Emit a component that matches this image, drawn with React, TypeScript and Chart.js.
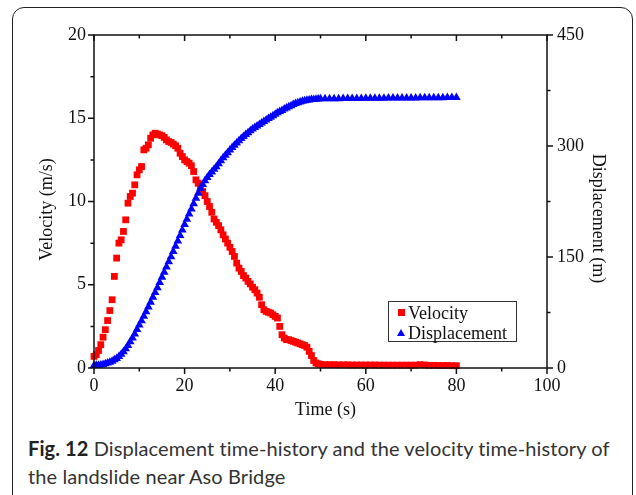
import React, { useEffect, useRef } from "react";
import { Chart, registerables } from "chart.js";

Chart.register(...registerables);

// ---- data ----
const time = [
  0, 0.5, 1, 1.5, 2, 2.5, 3, 3.5, 4, 4.5,
  5, 5.5, 6, 6.5, 7, 7.5, 8, 8.5, 9, 9.5,
  10, 10.5, 11, 11.5, 12, 12.5, 13, 13.5, 14, 14.5,
  15, 15.5, 16, 16.5, 17, 17.5, 18, 18.5, 19, 19.5,
  20, 20.5, 21, 21.5, 22, 22.5, 23, 23.5, 24, 24.5,
  25, 25.5, 26, 26.5, 27, 27.5, 28, 28.5, 29, 29.5,
  30, 30.5, 31, 31.5, 32, 32.5, 33, 33.5, 34, 34.5,
  35, 35.5, 36, 36.5, 37, 37.5, 38, 38.5, 39, 39.5,
  40, 40.5, 41, 41.5, 42, 42.5, 43, 43.5, 44, 44.5,
  45, 45.5, 46, 46.5, 47, 47.5, 48, 48.5, 49, 49.5,
  50, 51, 52, 53, 54, 55, 56, 57, 58, 59,
  60, 61, 62, 63, 64, 65, 66, 67, 68, 69,
  70, 71, 72, 73, 74, 75, 76, 77, 78, 79,
  80,
];

const velocity = [
  0.7, 0.8, 1.05, 1.4, 1.85, 2.3, 2.85, 3.45, 4.1, 5.5,
  6.6, 7.5, 7.7, 8.2, 8.9, 9.9, 10.3, 10.5, 11.0, 11.6,
  11.9, 12.1, 13.1, 13.2, 13.4, 13.8, 14.0, 14.1, 14.05, 14.0,
  13.95, 13.85, 13.7, 13.6, 13.55, 13.45, 13.35, 13.2, 12.9, 12.7,
  12.5, 12.4, 12.3, 12.15, 11.8, 11.3, 11.1, 10.95, 10.6, 10.35,
  10.0, 9.7, 9.35, 8.95, 8.75, 8.55, 8.3, 8.0, 7.75, 7.5,
  7.25, 7.0, 6.7, 6.3, 6.0, 5.8, 5.55, 5.4, 5.2, 5.05,
  4.85, 4.7, 4.5, 4.25, 3.8, 3.5, 3.4, 3.35, 3.3, 3.2,
  3.1, 3.0, 2.5, 2.0, 1.8, 1.7, 1.7, 1.65, 1.6, 1.55,
  1.5, 1.45, 1.4, 1.35, 1.25, 1.0, 0.75, 0.45, 0.3, 0.25,
  0.22, 0.2, 0.2, 0.2, 0.19, 0.19, 0.19, 0.18, 0.18, 0.18,
  0.18, 0.18, 0.18, 0.17, 0.17, 0.17, 0.17, 0.17, 0.17, 0.17,
  0.17, 0.17, 0.2, 0.18, 0.16, 0.16, 0.15, 0.15, 0.15, 0.14,
  0.14,
];

const displacement = [
  3.5, 3.6, 3.8, 4.2, 4.8, 5.6, 6.6, 7.8, 9.2, 11,
  13, 15.5, 18.5, 22, 26, 30.5, 35.5, 40.5, 46, 52,
  58, 64, 70, 76, 82.5, 89, 95.5, 102, 108.5, 115.5,
  122.5, 129.5, 136.5, 143.5, 150.5, 157.5, 164.5, 171.5, 179, 186.5,
  194, 201, 208, 215, 222, 229.5, 236, 242.5, 248, 253,
  257.5, 261.5, 265, 268.5, 272, 276, 280, 284, 287.5, 291,
  294.5, 298, 301, 304, 307, 310, 313, 315.5, 318, 320.5,
  323, 325, 327, 329, 331, 333, 335, 337, 339, 341,
  343, 345, 346.5, 348, 350, 351.5, 353, 354.5, 356, 357.5,
  358.5, 359.5, 360.5, 361.2, 361.8, 362.3, 362.7, 363, 363.3, 363.5,
  363.7, 363.8, 363.9, 364, 364, 364.1, 364.2, 364.2, 364.3, 364.3,
  364.4, 364.5, 364.5, 364.6, 364.6, 364.7, 364.8, 364.8, 364.9, 364.9,
  365, 365, 365.1, 365.1, 365.2, 365.2, 365.3, 365.3, 365.4, 365.4,
  365.5,
];

// ---- axis ticks & titles ----
const xMajor = [0, 20, 40, 60, 80, 100];
const xMinor = [10, 30, 50, 70, 90];
const vMajor = [0, 5, 10, 15, 20];
const vMinor = [2.5, 7.5, 12.5, 17.5];
const dMajor = [0, 150, 300, 450];
const dMinor = [75, 225, 375];
const xTitle = "Time (s)";
const vTitle = "Velocity (m/s)";
const dTitle = "Displacement (m)";

const SERIF = '"Liberation Serif", "Times New Roman", serif';
const tickFont = { family: SERIF, size: 18 };
const INK = "#111";

const frameTicks = {
  id: "frameTicks",
  afterDraw(chart: any) {
    const { ctx, chartArea: a, scales } = chart;
    const x = scales.x;
    const y = scales.y;
    const y1 = scales.y1;
    const MAJ = 6;
    const MIN = 3.5;
    ctx.save();
    ctx.strokeStyle = INK;
    ctx.lineWidth = 1.5;
    ctx.strokeRect(a.left, a.top, a.right - a.left, a.bottom - a.top);
    ctx.beginPath();
    const xt = (vals: number[], len: number) =>
      vals.forEach((v) => {
        const p = x.getPixelForValue(v);
        ctx.moveTo(p, a.bottom);
        ctx.lineTo(p, a.bottom + len);
        ctx.moveTo(p, a.top);
        ctx.lineTo(p, a.top + len);
      });
    xt(xMajor, MAJ);
    xt(xMinor, MIN);
    const lt = (vals: number[], len: number) =>
      vals.forEach((v) => {
        const p = y.getPixelForValue(v);
        ctx.moveTo(a.left, p);
        ctx.lineTo(a.left - len, p);
      });
    lt(vMajor, MAJ);
    lt(vMinor, MIN);
    const rt = (vals: number[], len: number) =>
      vals.forEach((v) => {
        const p = y1.getPixelForValue(v);
        ctx.moveTo(a.right, p);
        ctx.lineTo(a.right + len, p);
      });
    rt(dMajor, MAJ);
    rt(dMinor, MIN);
    ctx.stroke();

    // axis titles
    ctx.fillStyle = INK;
    ctx.font = `18px ${SERIF}`;
    ctx.textAlign = "center";
    ctx.textBaseline = "middle";
    const midY = (a.top + a.bottom) / 2;
    ctx.fillText(xTitle, (a.left + a.right) / 2 + 5, 410);
    ctx.save();
    ctx.translate(47, midY + 8);
    ctx.rotate(-Math.PI / 2);
    ctx.fillText(vTitle, 0, 0);
    ctx.restore();
    ctx.save();
    ctx.translate(598, midY + 17);
    ctx.rotate(Math.PI / 2);
    ctx.fillText(dTitle, 0, 0);
    ctx.restore();
    ctx.restore();
  },
};

export default function App() {
  const ref = useRef<HTMLCanvasElement | null>(null);

  useEffect(() => {
    if (!ref.current) return;
    const noGrid = { display: false, drawTicks: false, tickLength: 0 };
    const chart = new Chart(ref.current, {
      type: "scatter",
      data: {
        datasets: [
          {
            label: "Velocity",
            data: time.map((t, i) => ({ x: t, y: velocity[i] })),
            yAxisID: "y",
            pointStyle: "rect",
            pointRadius: 4.8,
            backgroundColor: "#ff0000",
            borderColor: "#ff0000",
            borderWidth: 0,
            showLine: false,
            clip: false,
            order: 1,
          } as any,
          {
            label: "Displacement",
            data: time.map((t, i) => ({ x: t, y: displacement[i] })),
            yAxisID: "y1",
            pointStyle: "triangle",
            pointRadius: 5,
            backgroundColor: "#0000ff",
            borderColor: "#0000ff",
            borderWidth: 0,
            showLine: false,
            clip: false,
            order: 0,
          } as any,
        ],
      },
      options: {
        responsive: false,
        animation: false,
        events: [],
        layout: { padding: { top: 35, bottom: 2, left: 0, right: 0 } },
        plugins: { legend: { display: false }, tooltip: { enabled: false } },
        scales: {
          x: {
            type: "linear",
            position: "bottom",
            min: 0,
            max: 100,
            ticks: { stepSize: 20, font: tickFont, color: INK, padding: 7, maxRotation: 0, autoSkip: false },
            grid: noGrid,
            border: { display: false },
            title: { display: false },
            afterFit: (s: any) => {
              s.height = 60;
            },
          },
          y: {
            type: "linear",
            position: "left",
            min: 0,
            max: 20,
            ticks: { stepSize: 5, font: tickFont, color: INK, padding: 8 },
            grid: noGrid,
            border: { display: false },
            title: { display: false },
            afterFit: (s: any) => {
              s.width = 94;
            },
          },
          y1: {
            type: "linear",
            position: "right",
            min: 0,
            max: 450,
            ticks: { stepSize: 150, font: tickFont, color: INK, padding: 10 },
            grid: noGrid,
            border: { display: false },
            title: { display: false },
            afterFit: (s: any) => {
              s.width = 89;
            },
          },
        },
      } as any,
      plugins: [frameTicks],
    });
    return () => chart.destroy();
  }, []);

  const legendText: React.CSSProperties = {
    position: "absolute",
    fontFamily: SERIF,
    fontSize: 18,
    lineHeight: "20px",
    color: INK,
    whiteSpace: "nowrap",
  };

  return (
    <div style={{ position: "fixed", left: 0, top: 0, width: 636, height: 495, background: "#fff", overflow: "hidden" }}>
      <div
        style={{
          position: "absolute",
          left: 12,
          top: 7,
          width: 621,
          height: 520,
          border: "1.5px solid #222",
          borderRadius: 12,
          boxSizing: "border-box",
        }}
      />
      <canvas ref={ref} width={636} height={430} style={{ position: "absolute", left: 0, top: 0, display: "block" }} />
      {/* legend */}
      <div
        style={{
          position: "absolute",
          left: 388,
          top: 301,
          width: 129,
          height: 41,
          border: "1.5px solid #333",
          boxSizing: "border-box",
          background: "#fff",
        }}
      />
      <div style={{ position: "absolute", left: 398, top: 309, width: 7, height: 7, background: "#ff0000" }} />
      <div style={{ ...legendText, left: 408, top: 302.5 }}>Velocity</div>
      <div
        style={{
          position: "absolute",
          left: 397,
          top: 329,
          width: 0,
          height: 0,
          borderLeft: "4.5px solid transparent",
          borderRight: "4.5px solid transparent",
          borderBottom: "7.5px solid #0000ff",
        }}
      />
      <div style={{ ...legendText, left: 408, top: 322.5 }}>Displacement</div>
      {/* caption */}
      <div
        style={{
          position: "absolute",
          left: 28,
          top: 434,
          fontFamily: "Lato, sans-serif",
          fontSize: 20,
          letterSpacing: "0.1px",
          lineHeight: "28px",
          color: "#333",
          whiteSpace: "nowrap",
        }}
      >
        <b style={{ color: "#222" }}>Fig. 12</b> Displacement time-history and the velocity time-history of
        <br />
        the landslide near Aso Bridge
      </div>
    </div>
  );
}
